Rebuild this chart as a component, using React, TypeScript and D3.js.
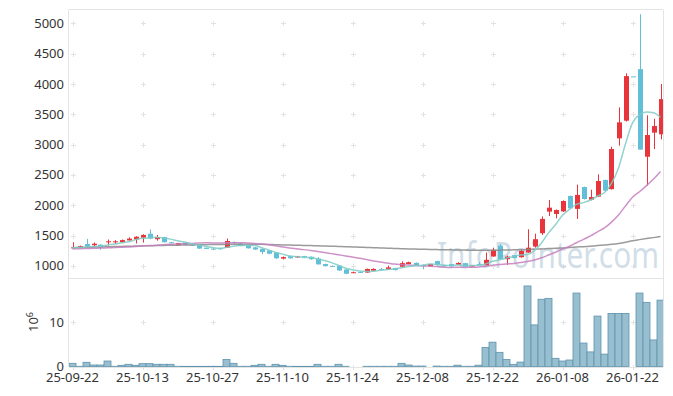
import React from "react";
import * as d3 from "d3";

const opens = [1290,1305,1360,1340,1350,1390,1390,1390,1420,1435,1465,1530,1440,1475,1390,1340,1385,1350,1340,1300,1285,1290,1300,1395,1370,1340,1305,1280,1255,1220,1120,1160,1140,1160,1150,1120,1030,1000,1005,940,885,900,890,920,950,940,965,985,1030,1050,1015,995,1080,1016,1028,1020,1045,995,1030,1010,1155,1335,1110,1175,1143,1220,1318,1538,1895,1856,1898,2153,1940,2300,2090,2142,2417,2265,3103,3394,4125,4245,2800,3197,3170];
const closes = [1305,1325,1320,1365,1300,1405,1405,1425,1450,1480,1510,1450,1475,1390,1380,1375,1345,1340,1285,1280,1272,1280,1410,1380,1330,1290,1270,1230,1200,1125,1145,1125,1160,1145,1110,1025,995,990,925,870,895,893,950,950,940,975,930,1045,1060,1010,1008,1030,1012,995,995,1048,985,1005,1020,1100,1265,1110,1153,1130,1247,1300,1440,1774,1960,1922,2070,1950,2170,2103,2135,2400,2240,2927,3367,4130,4125,2917,3158,3306,3750];
const highs = [1390,1335,1445,1385,1355,1435,1425,1435,1470,1490,1520,1600,1510,1480,1395,1380,1390,1355,1345,1300,1290,1295,1450,1400,1375,1345,1310,1285,1260,1225,1155,1165,1165,1165,1155,1145,1035,1005,1010,945,905,905,955,960,965,1005,970,1075,1070,1055,1020,1035,1085,1020,1032,1060,1050,1010,1065,1220,1300,1362,1170,1180,1260,1604,1530,1815,2087,1930,2080,2160,2340,2306,2255,2510,2420,2965,3614,4175,4125,5150,3483,3427,4000];
const lows = [1285,1300,1310,1315,1265,1335,1365,1380,1415,1370,1385,1440,1415,1385,1375,1335,1340,1335,1280,1275,1260,1270,1295,1360,1325,1285,1265,1195,1195,1115,1105,1120,1130,1140,1100,1020,990,980,918,865,880,885,885,915,930,935,925,980,1025,1000,945,990,1005,990,990,1015,980,990,1015,1005,1150,1105,1016,1125,1135,1215,1300,1510,1823,1785,1890,1940,1774,2095,2080,2135,2230,2260,2982,3380,4125,2917,2322,2927,3087];
const volumes = [0.72,0.05,0.95,0.34,0.34,1.24,0.05,0.27,0.5,0.27,0.64,0.64,0.5,0.5,0.5,0.05,0.04,0.04,0.04,0.04,0.04,0.04,1.6,0.72,0.05,0.05,0.27,0.5,0.05,0.5,0.27,0.05,0.04,0.04,0.04,0.5,0.05,0.05,0.5,0.05,0,0,0.05,0.05,0.05,0.05,0.05,0.72,0.34,0.1,0.1,0,0.1,0.05,0.05,0.3,0.05,0.05,0.3,4.3,5.5,3.2,1.6,0.5,1.0,18.2,9.4,15.2,15.4,1.85,1.24,1.47,16.6,5.3,3.3,11.4,2.8,12.0,12.0,12.0,0,16.6,14.5,6.0,15.0];
const ma5 = [1300,1305,1312,1318,1323,1343,1359,1380,1397,1433,1454,1463,1473,1461,1441,1414,1393,1366,1345,1325,1304,1291,1305,1324,1334,1338,1336,1300,1264,1223,1194,1165,1151,1140,1137,1113,1087,1053,1009,961,935,915,907,912,926,942,949,968,990,1004,1011,1031,1024,1011,1008,1016,1007,1006,1011,1032,1075,1100,1130,1152,1181,1188,1254,1378,1544,1679,1833,1935,2014,2043,2086,2152,2210,2361,2614,3013,3358,3493,3539,3527,3451];
const ma20 = [1280,1283,1286,1290,1293,1297,1302,1307,1313,1320,1327,1334,1341,1348,1355,1361,1366,1371,1376,1381,1379,1377,1381,1382,1383,1378,1371,1361,1349,1331,1313,1296,1281,1268,1255,1237,1220,1202,1184,1164,1145,1126,1103,1081,1062,1046,1029,1020,1013,1007,1000,995,988,980,975,976,975,976,981,992,1011,1022,1032,1041,1056,1072,1098,1134,1179,1225,1278,1324,1382,1437,1494,1562,1625,1721,1838,1990,2133,2223,2323,2432,2557];
const maLong = [1300,1303,1306,1309,1312,1315,1318,1321,1324,1327,1330,1332,1335,1337,1340,1342,1344,1346,1348,1350,1352,1354,1355,1357,1358,1357,1356,1355,1352,1349,1346,1343,1340,1337,1334,1331,1328,1325,1320,1316,1312,1308,1304,1300,1296,1292,1288,1284,1280,1277,1274,1271,1268,1266,1264,1262,1260,1258,1257,1257,1258,1259,1262,1264,1267,1270,1275,1280,1285,1290,1295,1302,1310,1317,1325,1335,1346,1356,1370,1390,1415,1433,1450,1466,1483];
const xTickIdx = [0,10,20,30,40,50,60,70,80];
const xTickLabels = ["25-09-22","25-10-13","25-10-27","25-11-10","25-11-24","25-12-08","25-12-22","26-01-08","26-01-22"];
const priceTicks = [1000,1500,2000,2500,3000,3500,4000,4500,5000];
const volTicks = [0,10];

const W = 673, H = 396;
const L = 69, R = 663, T = 10, MID = 278, B = 367;
const UP = "#e8353b", DOWN = "#62bfd8";
const FONT = "'Noto Sans', 'DejaVu Sans', sans-serif";

export default function App() {
  const n = closes.length;
  const x = d3.scaleLinear().domain([0, n - 1]).range([72.5, 660.5]);
  const yP = d3.scaleLinear().domain([800, 5220]).range([MID, T]);
  const yV = d3.scaleLinear().domain([0, 20]).range([366.5, MID]);
  const bw = 5, vw = 7;
  const mk = (arr: number[]) =>
    d3.line<number>().x((_, i) => x(i)).y((v) => yP(v)).curve(d3.curveMonotoneX)(arr) || "";

  const cross = (cx: number, cy: number, k: string) => (
    <g key={k} stroke="#e2e2e2" strokeWidth={1}>
      <line x1={cx - 2.5} x2={cx + 2.5} y1={cy} y2={cy} />
      <line x1={cx} x2={cx} y1={cy - 2.5} y2={cy + 2.5} />
    </g>
  );

  return (
    <svg width={W} height={H} style={{ position: "absolute", left: 0, top: 0, background: "#fff" }} fontFamily={FONT}>
      <defs>
        <clipPath id="pc"><rect x={L} y={T} width={R - L} height={MID - T} /></clipPath>
        <clipPath id="vc"><rect x={L} y={MID} width={R - L} height={B - MID} /></clipPath>
      </defs>
      {/* grid crosses */}
      {xTickIdx.map((ti) => priceTicks.map((p) => cross(Math.round(x(ti)) + 0.5, Math.round(yP(p)) + 0.5, `p${ti}-${p}`)))}
      {xTickIdx.map((ti) => volTicks.map((v) => cross(Math.round(x(ti)) + 0.5, Math.round(yV(v)) + 0.5, `v${ti}-${v}`)))}
      {/* frame */}
      <g stroke="#e4e4e4" strokeWidth={1} fill="none">
        <line x1={L - 0.5} x2={L - 0.5} y1={T} y2={B} />
        <line x1={R + 0.5} x2={R + 0.5} y1={T} y2={B} />
        <line x1={L} x2={R} y1={T - 0.5} y2={T - 0.5} />
        <line x1={L} x2={R} y1={MID + 0.5} y2={MID + 0.5} />
        <line x1={L} x2={R} y1={B + 0.5} y2={B + 0.5} />
      </g>
      {/* watermark */}
      <text x={437} y={268} fontSize={36} fill="#c9d9e4" fillOpacity={0.85} textLength={222} lengthAdjust="spacingAndGlyphs" fontFamily={FONT}>InfoPointer.com</text>
      {/* candles */}
      <g clipPath="url(#pc)">
        {closes.map((c, i) => {
          const o = opens[i];
          const col = c > o ? UP : DOWN;
          const cx = Math.round(x(i)) + 0.5;
          const top = yP(Math.max(o, c)), bot = yP(Math.min(o, c));
          return (
            <g key={i}>
              <line x1={cx} x2={cx} y1={yP(highs[i])} y2={yP(lows[i])} stroke={col} strokeWidth={1} />
              <rect x={cx - bw / 2} y={top} width={bw} height={Math.max(1, bot - top)} fill={col} />
            </g>
          );
        })}
        <path d={mk(maLong)} fill="none" stroke="#8a8a8a" strokeWidth={1.5} strokeOpacity={0.85} />
        <path d={mk(ma20)} fill="none" stroke="#c67fbe" strokeWidth={1.5} strokeOpacity={0.85} />
        <path d={mk(ma5)} fill="none" stroke="#7fcbc6" strokeWidth={1.5} strokeOpacity={0.85} />
      </g>
      {/* volume */}
      <g clipPath="url(#vc)">
        {volumes.map((v, i) =>
          v > 0 ? (
            <rect key={i} x={x(i) - vw / 2} y={yV(v)} width={vw} height={Math.max(0.3, yV(0) - yV(v))} fill="#98bfd0" stroke="#5f93ad" strokeWidth={0.8} />
          ) : null
        )}
      </g>
      {/* y labels */}
      <g fontSize={13} fill="#333" textAnchor="end">
        {priceTicks.map((p) => (
          <text key={p} x={64} y={yP(p)} dy="0.35em">{p}</text>
        ))}
        {volTicks.map((v) => (
          <text key={v} x={64} y={yV(v)} dy="0.35em">{v}</text>
        ))}
      </g>
      <text transform="translate(38,322) rotate(-90)" fontSize={13} fill="#333" textAnchor="middle">
        10<tspan dy="-5" fontSize={9}>6</tspan>
      </text>
      {/* x labels */}
      <g fontSize={13} fill="#333" textAnchor="middle">
        {xTickIdx.map((ti, k) => (
          <text key={ti} x={x(ti)} y={382}>{xTickLabels[k]}</text>
        ))}
      </g>
    </svg>
  );
}
